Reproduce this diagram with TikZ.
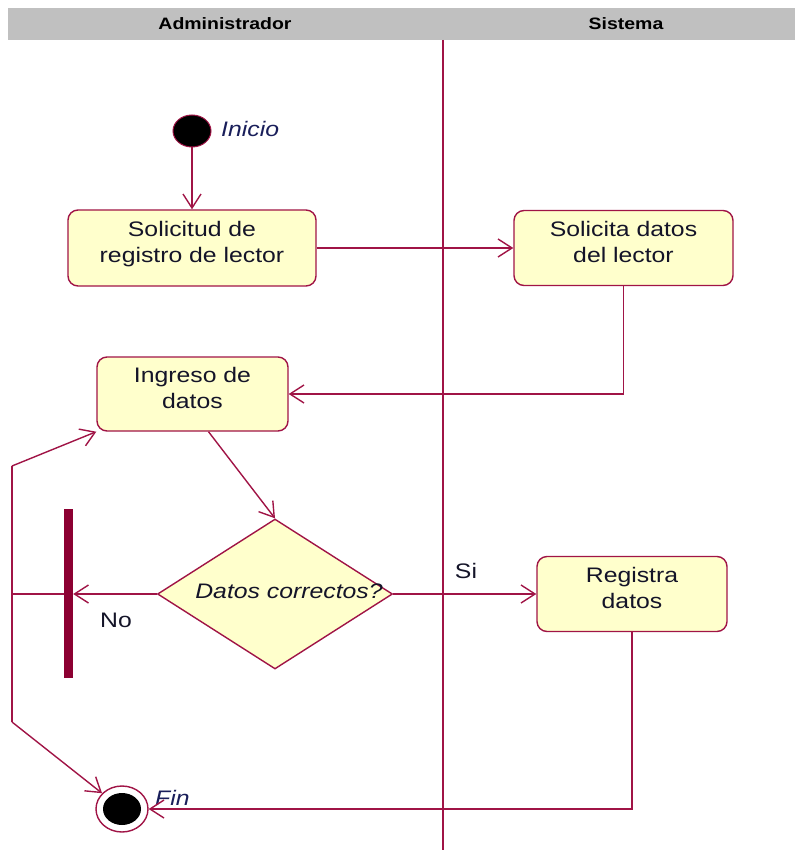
\documentclass[tikz,border=0pt]{standalone}
\usepackage{fontspec}
\setmainfont{Liberation Sans}[FakeStretch=1.18]
\usetikzlibrary{arrows.meta,shapes.geometric}
\definecolor{umlline}{RGB}{160,20,70}
\definecolor{umlbar}{RGB}{140,0,50}
\definecolor{umlfill}{RGB}{255,255,204}
\definecolor{lanegray}{RGB}{192,192,192}
\definecolor{labelnavy}{RGB}{25,30,90}
\definecolor{boxtext}{RGB}{20,20,40}
\begin{document}
\begin{tikzpicture}[x=1pt,y=-1pt,
  activity/.style={draw=umlline, fill=umlfill, line width=1.4pt, rounded corners=10pt,
    align=center, inner sep=0pt, text depth=13pt, text=boxtext, font=\fontsize{21}{26}\selectfont},
  decision/.style={diamond, draw=umlline, fill=umlfill, line width=1.4pt, inner sep=0pt,
    minimum width=235pt, minimum height=150pt},
  flow/.style={draw=umlline, line width=1.4pt},
  arr/.style={flow, -{Straight Barb[length=14pt,width=18pt]}},
  lanehead/.style={font=\fontsize{16.5}{18}\selectfont\bfseries, text=black},
  statelabel/.style={font=\fontsize{21}{24}\selectfont\itshape, text=labelnavy, anchor=west, inner sep=0pt},
  guard/.style={font=\fontsize{21}{24}\selectfont, text=boxtext, inner sep=0pt}
]
\useasboundingbox (0,0) rectangle (795,850);

% swimlane header and divider
\fill[lanegray] (8,8) rectangle (795,40);
\node[lanehead] (laneA) at (225,24) {Administrador};
\node[lanehead] (laneS) at (626,24) {Sistema};
\draw[flow] (443,40) -- (443,850);

% start and end states
\node[ellipse, draw=umlline, fill=black, line width=1pt, minimum width=38pt, minimum height=32pt, inner sep=0pt] (ini) at (192,131) {};
\node[statelabel] (inilbl) at (221,129) {Inicio};

\node[ellipse, draw=umlline, fill=white, line width=1.4pt, minimum width=52pt, minimum height=46pt, inner sep=0pt] (fin) at (122,809) {};
\node[ellipse, fill=black, minimum width=38pt, minimum height=32pt, inner sep=0pt] (fincore) at (fin) {};
\node[statelabel] (finlbl) at (155,798) {Fin};

% activities
\node[activity, minimum width=248pt, minimum height=76pt] (sol) at (192,248) {Solicitud de\\registro de lector};
\node[activity, minimum width=219pt, minimum height=75pt] (sdat) at (623.5,248) {Solicita datos\\del lector};
\node[activity, minimum width=191pt, minimum height=74pt] (ing) at (192.5,394) {Ingreso de\\datos};
\node[activity, minimum width=190pt, minimum height=75pt] (reg) at (632,594) {Registra\\datos};

% decision
\node[decision] (dec) at (275,594) {};
\node[font=\fontsize{21}{24}\selectfont\itshape, text=boxtext, inner sep=0pt] (dectext) at (289,591) {Datos correctos?};

% synchronisation bar
\node[rectangle, fill=umlbar, minimum width=9pt, minimum height=169pt, inner sep=0pt] (bar) at (68.5,593.5) {};

% return path coordinates
\coordinate (lp) at (12,594);
\coordinate (lt) at (12,466);
\coordinate (lb) at (12,722);

% transitions
\draw[arr] (ini) -- (sol);
\draw[arr] (sol.east) -- (sdat.west |- sol.east);
\draw[arr] (sdat.south) |- (ing.east);
\draw[arr] ([xshift=16pt]ing.south) -- (dec.north);
\draw[arr] (dec.west) -- (dec.west -| bar.east);
\draw[arr] (dec.east) -- (reg.west |- dec.east);
\draw[arr] (reg.south) |- (fin.east);
\draw[flow] (lp -| bar.west) -- (lp);
\draw[flow] (lt) -- (lb);
\draw[arr] (lt) -- (ing.south west);
\draw[arr] (lb) -- (fin);

% guards
\node[guard] (si) at (466,571) {Si};
\node[guard] (no) at (116,620) {No};
\end{tikzpicture}
\end{document}
